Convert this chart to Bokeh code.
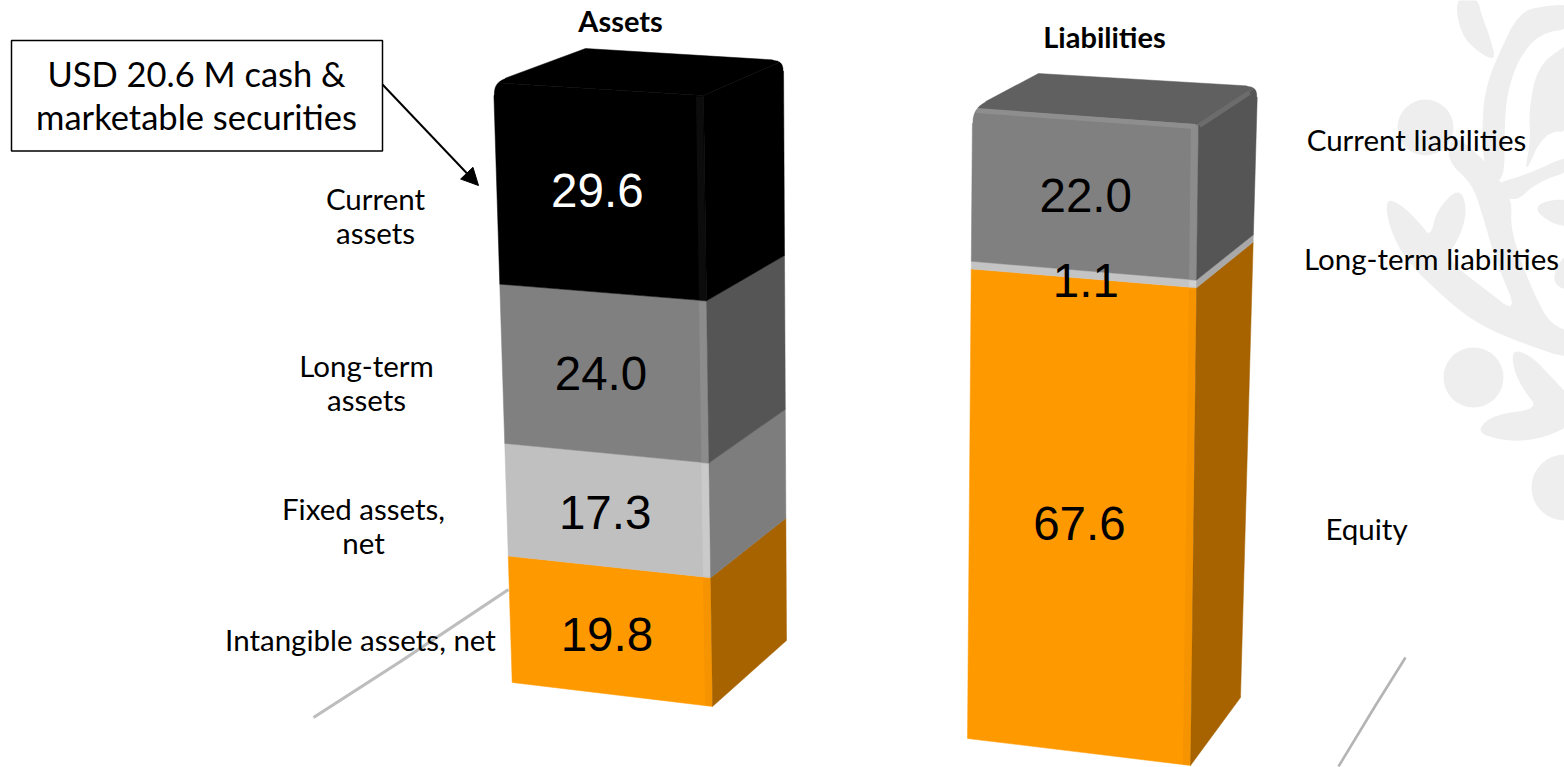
from bokeh.plotting import figure
from bokeh.models import Range1d, Arrow, NormalHead
from bokeh.core.properties import value
from bokeh.embed import file_html
from bokeh.resources import INLINE
import math

# ---- data ----
asset_categories = ["Intangible assets, net", "Fixed assets, net", "Long-term assets", "Current assets"]
asset_values = [19.8, 17.3, 24.0, 29.6]
liability_categories = ["Equity", "Long-term liabilities", "Current liabilities"]
liability_values = [67.6, 1.1, 22.0]

asset_front = ["#FF9900", "#C0C0C0", "#808080", "#000000"]
asset_side = ["#A66300", "#7D7D7D", "#555555", "#000000"]
asset_strip = ["#F59300", "#CACACA", "#8C8C8C", "#0C0C0C"]
asset_text = ["#000000", "#000000", "#000000", "#FFFFFF"]
liab_front = ["#FF9900", "#C4C4C4", "#808080"]
liab_side = ["#A66300", "#A8A8A8", "#555555"]
liab_strip = ["#F59300", "#D0D0D0", "#8C8C8C"]
liab_text = ["#000000", "#000000", "#000000"]

TEXT_FONT = "Lato"
NUM_FONT = "Liberation Sans"

p = figure(width=1564, height=767, output_backend="svg", toolbar_location=None,
           x_range=Range1d(0, 1564), y_range=Range1d(767, 0), min_border=0,
           outline_line_color=None, border_fill_color="white", background_fill_color="white")
p.axis.visible = False
p.grid.visible = False


# ---- watermark ----
def chaikin(pts, n=2):
    for _ in range(n):
        out = []
        for i in range(len(pts)):
            a, b = pts[i], pts[(i + 1) % len(pts)]
            out.append((0.75 * a[0] + 0.25 * b[0], 0.75 * a[1] + 0.25 * b[1]))
            out.append((0.25 * a[0] + 0.75 * b[0], 0.25 * a[1] + 0.75 * b[1]))
        pts = out
    return pts


WM = "#EDEEED"
wm_shapes = [
    # top leaf
    [(230, -10), (230, 60), (260, 130), (350, 190), (325, 100), (305, 50), (290, -10)],
    # stem with its upper right band
    [(350, 170), (320, 250), (306, 330), (306, 500), (372, 560), (372, 350), (385, 260), (415, 175),
     (475, 100), (580, 82), (580, 12), (490, 16), (415, 36)],
    # branch to the circle, run down into the lower arc, with the left double leaf
    [(215, 395), (198, 480), (275, 550), (305, 640), (345, 780), (415, 945), (300, 855), (195, 775),
     (243, 700), (260, 620), (235, 560), (168, 630), (150, 710), (120, 670), (60, 610), (14, 595),
     (26, 680), (76, 780), (205, 905), (300, 975), (430, 1030), (580, 1080), (580, 1000), (510, 970),
     (470, 900), (424, 790), (390, 680), (395, 600), (345, 520), (312, 480)],
    # right branch
    [(340, 560), (400, 610), (470, 545), (580, 508), (580, 458), (430, 525), (372, 540)],
    # leaf right of the stem
    [(445, 330), (470, 200), (552, 135), (580, 130), (580, 392), (490, 395), (430, 530), (450, 420)],
    # small leaves at the right edge
    [(460, 625), (500, 598), (580, 598), (580, 682), (510, 668)],
    [(580, 745), (530, 790), (516, 852), (580, 875)],
    # lower pair of leaves
    [(396, 1045), (455, 1068), (522, 1140), (580, 1200), (580, 1270), (490, 1312), (400, 1324),
     (318, 1308), (292, 1285), (340, 1243), (475, 1225), (430, 1170), (398, 1105)],
]
for shape in wm_shapes:
    s = chaikin(shape, 2)
    p.patch([1380 + a / 3 for a, _ in s], [b / 3 for _, b in s], fill_color=WM, line_color=None)
p.circle(x=[1425, 1473, 1564], y=[127, 377, 487], radius=[28, 30, 33], fill_color=WM, line_color=None)

# ---- floor lines ----
p.line([313, 400, 508], [717, 661, 589], line_color="#BDBDBD", line_width=3.2)
p.line([1338, 1375, 1405], [766, 705, 657], line_color="#B4B4B4", line_width=2.6)


# ---- bars: values are stacked through a small perspective projection ----
def project(edge, t, k):
    (x0, y0), (x1, y1) = edge
    s = t / (t + k * (1 - t))
    return (x0 + (x1 - x0) * s, y0 + (y1 - y0) * s)


pending_numbers = []


def draw_bar(values, front, side, strip, text_col, fl, fr, br, back_left, top_col, k, dxs, dys):
    total = sum(values)
    cum = 0.0
    for v, cf, cs, cst, ct, dx, dy in zip(values, front, side, strip, text_col, dxs, dys):
        t0, t1 = cum / total, (cum + v) / total
        cum += v
        a, b = project(fl, t0, k), project(fr, t0, k)
        c, d = project(fr, t1, k), project(fl, t1, k)
        p.patch([a[0], b[0], c[0], d[0]], [a[1], b[1], c[1], d[1]],
                fill_color=cf, line_color=cf, line_width=0.5)
        e, f = project(br, t0, k), project(br, t1, k)
        p.patch([b[0], e[0], f[0], c[0]], [b[1], e[1], f[1], c[1]],
                fill_color=cs, line_color=cs, line_width=0.5)
        p.line([b[0] - 4, c[0] - 4], [b[1] - 1, c[1] + 1], line_color=cst, line_width=7)
        mx = (a[0] + b[0] + c[0] + d[0]) / 4
        my = (a[1] + b[1] + c[1] + d[1]) / 4
        pending_numbers.append((mx + dx, my + dy, f"{v:.1f}", ct))
    tl, tr, bt = fl[1], fr[1], br[1]
    p.patch([tl[0], back_left[0], bt[0], tr[0]], [tl[1], back_left[1], bt[1], tr[1]],
            fill_color=top_col, line_color=top_col, line_width=0.5)
    return tl, tr, bt


def corner_mask(c, u, v, r):
    """White notch that rounds the silhouette corner c between neighbours u and v."""
    def toward(q):
        d = math.hypot(q[0] - c[0], q[1] - c[1])
        return (c[0] + (q[0] - c[0]) * r / d, c[1] + (q[1] - c[1]) * r / d)
    a, b = toward(u), toward(v)
    ox = c[0] - ((a[0] + b[0]) / 2 - c[0]) * 0.4
    oy = c[1] - ((a[1] + b[1]) / 2 - c[1]) * 0.4
    xs, ys = [ox, a[0] + (a[0] - b[0]) * 0.08], [oy, a[1] + (a[1] - b[1]) * 0.08]
    for i in range(9):
        s = i / 8
        xs.append((1 - s) ** 2 * a[0] + 2 * s * (1 - s) * c[0] + s ** 2 * b[0])
        ys.append((1 - s) ** 2 * a[1] + 2 * s * (1 - s) * c[1] + s ** 2 * b[1])
    xs.append(b[0] + (b[0] - a[0]) * 0.08)
    ys.append(b[1] + (b[1] - a[1]) * 0.08)
    p.patch(xs, ys, fill_color="white", line_color="white", line_width=0.5)


# assets bar
a_fl = ((511.7, 682), (493, 82))
a_fr = ((712, 706), (703, 95))
a_br = ((786, 640), (783, 60))
a_bl = (585, 48)
tl, tr, bt = draw_bar(asset_values, asset_front, asset_side, asset_strip, asset_text,
                      a_fl, a_fr, a_br, a_bl, "#000000", 1.045,
                      [-4, -3, -4, -3.5], [4, 2, 1, 0])
corner_mask(tl, a_bl, a_fl[0], 12)
corner_mask(bt, a_bl, a_br[0], 10)

# liabilities bar
l_fl = ((967, 738), (972, 108))
l_fr = ((1190, 765), (1198, 124))
l_br = ((1240, 697), (1257, 86))
l_bl = (1038, 73)
tl, tr, bt = draw_bar(liability_values, liab_front, liab_side, liab_strip, liab_text,
                      l_fl, l_fr, l_br, l_bl, "#606060", 1.0,
                      [-2, 2, 1], [8, 6, 2])
p.line([tl[0] + 4, tr[0] - 3], [tl[1] + 2, tr[1] + 2], line_color="#8E8E8E", line_width=5)
p.line([tr[0] + 1, bt[0] - 8], [tr[1] + 1, bt[1] + 6], line_color="#6C6C6C", line_width=5)
corner_mask(tl, l_bl, l_fl[0], 14)
corner_mask(bt, l_bl, l_br[0], 10)

# ---- texts ----
p.text(x=[n[0] for n in pending_numbers], y=[n[1] for n in pending_numbers],
       text=[n[2] for n in pending_numbers], text_color=[n[3] for n in pending_numbers],
       text_align="center", text_baseline="middle",
       text_font=value(NUM_FONT), text_font_size="47.5px")

labels = [
    ("Current", 375, 198), ("assets", 375, 232),
    ("Long-term", 366, 365), ("assets", 366, 399),
    ("Fixed assets,", 363, 508), ("net", 363, 542),
    ("Intangible assets, net", 360, 639),
    ("Current liabilities", 1416, 139),
    ("Long-term liabilities", 1431, 258),
    ("Equity", 1366, 528),
]
p.text(x=[l[1] for l in labels], y=[l[2] for l in labels], text=[l[0] for l in labels],
       text_align="center", text_baseline="middle", text_color="#000000",
       text_font=value(TEXT_FONT), text_font_size="29.5px")
p.text(x=[620, 1104], y=[20, 36], text=["Assets", "Liabilities"], text_align="center",
       text_baseline="middle", text_color="#000000", text_font=value(TEXT_FONT),
       text_font_size="29px", text_font_style="bold")

# ---- callout ----
p.quad(left=[11], right=[382], top=[40], bottom=[150.5], fill_color="white", line_color="#000000", line_width=1.5)
p.text(x=[196, 196], y=[73, 116], text=["USD 20.6 M cash &", "marketable securities"],
       text_align="center", text_baseline="middle", text_color="#000000",
       text_font=value(TEXT_FONT), text_font_size="34.5px")
p.add_layout(Arrow(end=NormalHead(size=17, fill_color="#000000", line_color="#000000"),
                   x_start=382, y_start=84, x_end=478, y_end=185,
                   line_color="#000000", line_width=2))

open("out.html", "w").write(file_html(p, INLINE))
